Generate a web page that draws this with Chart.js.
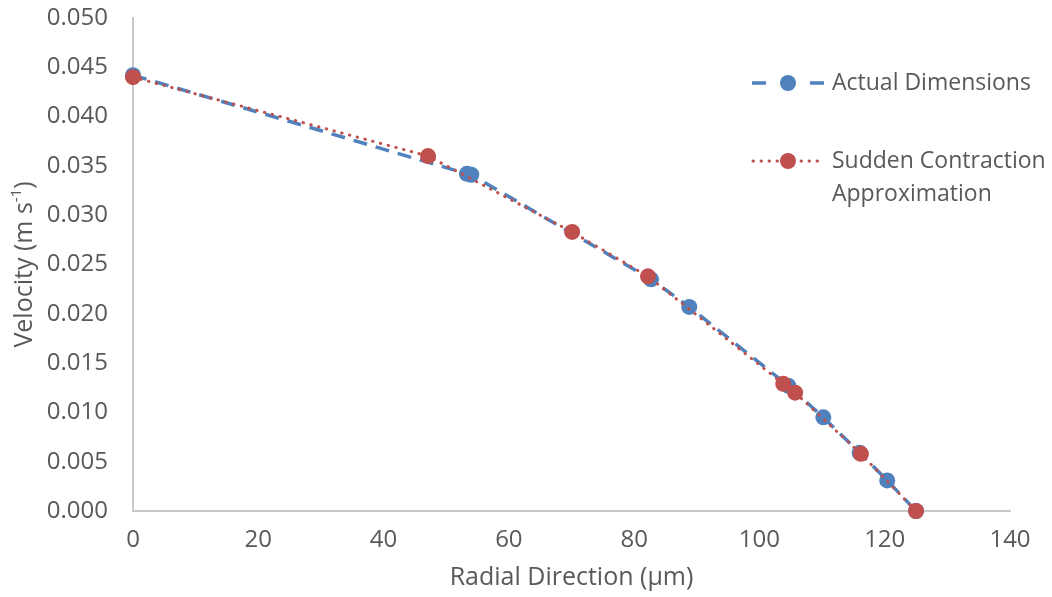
<!DOCTYPE html>
<html>
<head>
<meta charset="utf-8">
<script src="https://cdn.jsdelivr.net/npm/chart.js@4"></script>
<style>
  html, body { margin: 0; padding: 0; background: #fff; }
  #wrap { width: 1052px; height: 597px; }
</style>
</head>
<body>
<div id="wrap"><canvas id="velocityChart" width="1052" height="597"></canvas></div>
<script>
// radial position (um) and velocity (m/s) for each model
const radialActual = [0, 53.3, 54.0, 82.7, 88.8, 104.6, 110.2, 116.0, 120.4, 125];
const velocityActual = [0.0442, 0.0342, 0.0341, 0.0235, 0.0207, 0.0127, 0.0095, 0.0059, 0.0031, 0.0];
const radialContraction = [0, 47.1, 70.1, 82.2, 103.8, 105.7, 116.2, 125];
const velocityContraction = [0.0440, 0.0360, 0.0283, 0.0238, 0.0129, 0.0120, 0.0058, 0.0];
const seriesNames = ['Actual Dimensions', ['Sudden Contraction', 'Approximation']];

const FONT = '"Open Sans", "Liberation Sans", sans-serif';
const TEXT = '#595959';
const BLUE = '#4F81BD';
const RED = '#C0504D';

function toPoints(xs, ys) {
  return xs.map((x, i) => ({x: x, y: ys[i]}));
}

// y title with a superscript, and the legend sitting over the plot
const extras = {
  id: 'extras',
  afterDraw(chart) {
    const ctx = chart.ctx;
    const area = chart.chartArea;
    ctx.save();
    ctx.fillStyle = TEXT;
    ctx.translate(25, (area.top + area.bottom) / 2);
    ctx.rotate(-Math.PI / 2);
    ctx.textBaseline = 'middle';
    ctx.font = '25px ' + FONT;
    const a = 'Velocity (m s', sup = '-1', b = ')';
    const wa = ctx.measureText(a).width, wb = ctx.measureText(b).width;
    ctx.font = '15px ' + FONT;
    const ws = ctx.measureText(sup).width;
    let x = -(wa + ws + wb) / 2;
    ctx.font = '25px ' + FONT;
    ctx.textAlign = 'left';
    ctx.fillText(a, x, 0);
    ctx.font = '15px ' + FONT;
    ctx.fillText(sup, x + wa, -8);
    ctx.font = '25px ' + FONT;
    ctx.fillText(b, x + wa + ws, 0);
    ctx.restore();

    const rows = [83, 161];
    chart.data.datasets.forEach((ds, i) => {
      const y = rows[i];
      ctx.save();
      ctx.strokeStyle = ds.borderColor;
      ctx.lineWidth = ds.borderWidth;
      ctx.lineCap = ds.borderCapStyle || 'butt';
      ctx.setLineDash(i === 0 ? [] : ds.borderDash);
      ctx.beginPath();
      if (i === 0) {
        ctx.moveTo(752, y); ctx.lineTo(766, y);
        ctx.moveTo(810, y); ctx.lineTo(824, y);
      } else {
        ctx.moveTo(753, y); ctx.lineTo(823, y);
      }
      ctx.stroke();
      ctx.setLineDash([]);
      ctx.fillStyle = ds.pointBackgroundColor;
      ctx.beginPath();
      ctx.arc(788, y, 8, 0, Math.PI * 2);
      ctx.fill();
      ctx.fillStyle = TEXT;
      ctx.font = '23px ' + FONT;
      ctx.textBaseline = 'middle';
      const label = [].concat(seriesNames[i]);
      label.forEach((t, k) => ctx.fillText(t, 832, y + k * 33));
      ctx.restore();
    });
  }
};

new Chart(document.getElementById('velocityChart'), {
  type: 'scatter',
  data: {
    datasets: [{
      label: 'Actual Dimensions',
      data: toPoints(radialActual, velocityActual),
      showLine: true,
      clip: false,
      borderColor: BLUE,
      backgroundColor: BLUE,
      pointBackgroundColor: BLUE,
      borderWidth: 3.5,
      borderDash: [14, 9],
      pointRadius: 8,
      pointBorderWidth: 0,
      order: 2
    }, {
      label: 'Sudden Contraction Approximation',
      data: toPoints(radialContraction, velocityContraction),
      showLine: true,
      clip: false,
      borderColor: RED,
      backgroundColor: RED,
      pointBackgroundColor: RED,
      borderWidth: 3,
      borderDash: [0.5, 7.5],
      borderCapStyle: 'round',
      pointRadius: 8,
      pointBorderWidth: 0,
      order: 1
    }]
  },
  options: {
    responsive: false,
    animation: false,
    events: [],
    layout: { padding: { top: 0, right: 42, left: 0, bottom: 0 } },
    plugins: { legend: { display: false }, tooltip: { enabled: false } },
    scales: {
      x: {
        type: 'linear',
        min: 0, max: 140,
        afterFit: s => { s.height = 86; },
        grid: { display: false, drawTicks: false },
        border: { display: true, color: '#C9C9C9', width: 2 },
        ticks: { stepSize: 20, padding: 15, color: TEXT, font: { family: FONT, size: 24 } },
        title: { display: true, text: 'Radial Direction (μm)', color: TEXT,
                 font: { family: FONT, size: 25 }, padding: { top: 4 } }
      },
      y: {
        min: 0, max: 0.05,
        // fixed width; the tick padding would otherwise push the top down too
        afterFit: s => { s.width = 133; s.paddingTop = 18; },
        grid: { display: false, drawTicks: false },
        border: { display: true, color: '#C9C9C9', width: 2 },
        ticks: { stepSize: 0.005, padding: 25, color: TEXT, font: { family: FONT, size: 24 },
                 callback: v => v.toFixed(3) }
      }
    }
  },
  plugins: [extras]
});
</script>
</body>
</html>
